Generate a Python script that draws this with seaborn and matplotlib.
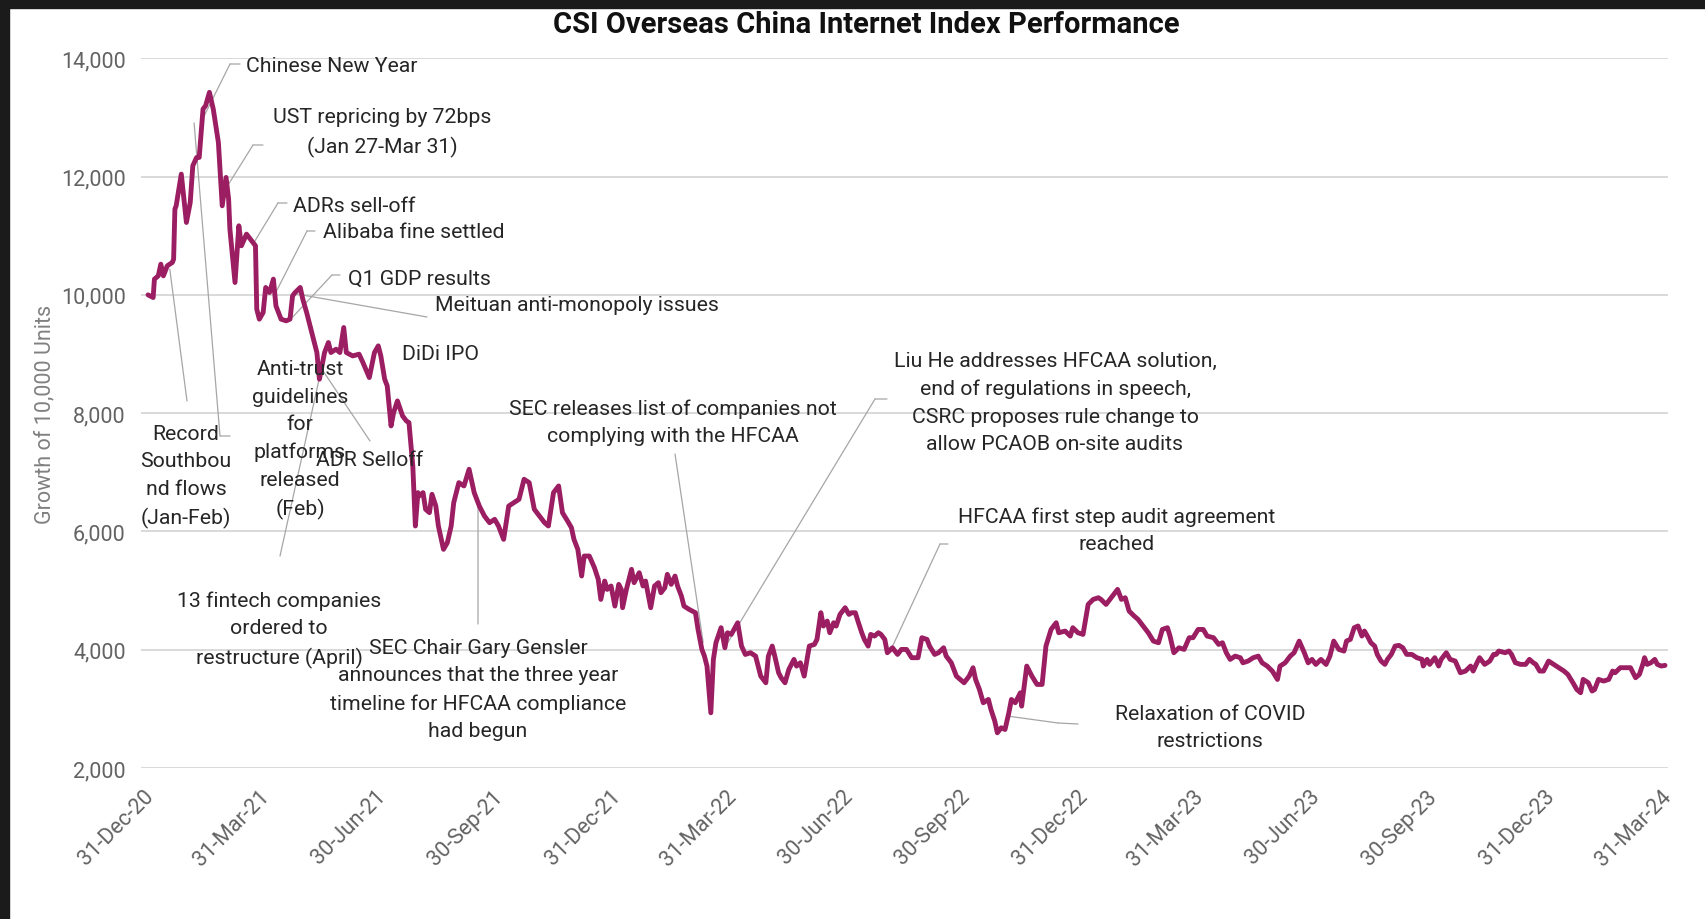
import matplotlib
matplotlib.use("Agg")
import matplotlib.pyplot as plt
import matplotlib.dates as mdates
from matplotlib import font_manager
from matplotlib.patches import Rectangle
from matplotlib.transforms import ScaledTranslation
import seaborn as sns
import pandas as pd

# --- data (growth of 10,000 units) ---

dates = [
    # 2021
    "2020-12-31", "2021-01-04", "2021-01-05", "2021-01-08", "2021-01-10", "2021-01-12", "2021-01-15", "2021-01-19",
    "2021-01-20", "2021-01-21", "2021-01-22", "2021-01-26", "2021-01-30", "2021-02-02", "2021-02-04", "2021-02-07",
    "2021-02-09", "2021-02-12", "2021-02-14", "2021-02-17", "2021-02-20", "2021-02-24", "2021-02-27", "2021-03-02",
    "2021-03-04", "2021-03-05", "2021-03-09", "2021-03-12", "2021-03-14", "2021-03-18", "2021-03-22", "2021-03-25",
    "2021-03-26", "2021-03-28", "2021-03-31", "2021-04-02", "2021-04-05", "2021-04-08", "2021-04-10", "2021-04-14",
    "2021-04-18", "2021-04-21", "2021-04-23", "2021-04-25", "2021-04-29", "2021-05-01", "2021-05-04", "2021-05-08",
    "2021-05-12", "2021-05-14", "2021-05-18", "2021-05-21", "2021-05-23", "2021-05-27", "2021-05-30", "2021-06-02",
    "2021-06-04", "2021-06-09", "2021-06-14", "2021-06-17", "2021-06-22", "2021-06-26", "2021-06-29", "2021-07-01",
    "2021-07-04", "2021-07-06", "2021-07-09", "2021-07-11", "2021-07-14", "2021-07-18", "2021-07-21", "2021-07-23",
    "2021-07-26", "2021-07-28", "2021-07-30", "2021-07-31", "2021-08-03", "2021-08-05", "2021-08-08", "2021-08-10",
    "2021-08-13", "2021-08-15", "2021-08-19", "2021-08-22", "2021-08-25", "2021-08-27", "2021-08-31", "2021-09-04",
    "2021-09-08", "2021-09-12", "2021-09-16", "2021-09-20", "2021-09-24", "2021-09-28", "2021-10-01", "2021-10-05",
    "2021-10-09", "2021-10-13", "2021-10-17", "2021-10-21", "2021-10-25", "2021-10-29", "2021-11-02", "2021-11-06",
    "2021-11-09", "2021-11-13", "2021-11-17", "2021-11-20", "2021-11-24", "2021-11-27", "2021-11-29", "2021-12-02",
    "2021-12-05", "2021-12-07", "2021-12-11", "2021-12-15", "2021-12-18", "2021-12-20", "2021-12-23", "2021-12-25",
    "2021-12-28", "2021-12-31",
    # 2022
    "2022-01-03", "2022-01-05", "2022-01-06", "2022-01-09", "2022-01-13", "2022-01-15", "2022-01-19", "2022-01-22",
    "2022-01-24", "2022-01-28", "2022-01-31", "2022-02-03", "2022-02-05", "2022-02-08", "2022-02-10", "2022-02-13",
    "2022-02-16", "2022-02-18", "2022-02-21", "2022-02-23", "2022-02-27", "2022-03-04", "2022-03-06", "2022-03-09",
    "2022-03-11", "2022-03-13", "2022-03-16", "2022-03-18", "2022-03-20", "2022-03-24", "2022-03-27", "2022-03-29",
    "2022-04-01", "2022-04-06", "2022-04-09", "2022-04-12", "2022-04-16", "2022-04-20", "2022-04-24", "2022-04-28",
    "2022-04-30", "2022-05-03", "2022-05-05", "2022-05-08", "2022-05-10", "2022-05-13", "2022-05-16", "2022-05-20",
    "2022-05-22", "2022-05-25", "2022-05-28", "2022-06-01", "2022-06-05", "2022-06-07", "2022-06-10", "2022-06-12",
    "2022-06-15", "2022-06-17", "2022-06-20", "2022-06-22", "2022-06-25", "2022-06-29", "2022-07-02", "2022-07-04",
    "2022-07-07", "2022-07-09", "2022-07-12", "2022-07-14", "2022-07-17", "2022-07-19", "2022-07-22", "2022-07-25",
    "2022-07-27", "2022-07-30", "2022-08-01", "2022-08-05", "2022-08-09", "2022-08-12", "2022-08-16", "2022-08-20",
    "2022-08-25", "2022-08-28", "2022-09-01", "2022-09-03", "2022-09-07", "2022-09-10", "2022-09-14", "2022-09-16",
    "2022-09-20", "2022-09-24", "2022-09-27", "2022-09-30", "2022-10-04", "2022-10-07", "2022-10-09", "2022-10-12",
    "2022-10-15", "2022-10-19", "2022-10-21", "2022-10-24", "2022-10-26", "2022-10-29", "2022-11-01", "2022-11-04",
    "2022-11-06", "2022-11-09", "2022-11-13", "2022-11-14", "2022-11-18", "2022-11-22", "2022-11-26", "2022-11-30",
    "2022-12-03", "2022-12-07", "2022-12-11", "2022-12-13", "2022-12-18", "2022-12-22", "2022-12-24", "2022-12-28",
    # 2023
    "2023-01-01", "2023-01-05", "2023-01-09", "2023-01-13", "2023-01-15", "2023-01-19", "2023-01-23", "2023-01-28",
    "2023-01-31", "2023-02-03", "2023-02-06", "2023-02-10", "2023-02-13", "2023-02-17", "2023-02-21", "2023-02-25",
    "2023-03-01", "2023-03-04", "2023-03-08", "2023-03-10", "2023-03-13", "2023-03-17", "2023-03-21", "2023-03-25",
    "2023-03-28", "2023-04-01", "2023-04-05", "2023-04-08", "2023-04-13", "2023-04-17", "2023-04-20", "2023-04-23",
    "2023-04-26", "2023-04-30", "2023-05-04", "2023-05-06", "2023-05-10", "2023-05-14", "2023-05-18", "2023-05-21",
    "2023-05-25", "2023-05-29", "2023-06-02", "2023-06-04", "2023-06-08", "2023-06-12", "2023-06-15", "2023-06-19",
    "2023-06-23", "2023-06-26", "2023-06-29", "2023-07-02", "2023-07-06", "2023-07-10", "2023-07-13", "2023-07-16",
    "2023-07-20", "2023-07-24", "2023-07-26", "2023-07-29", "2023-08-01", "2023-08-04", "2023-08-07", "2023-08-09",
    "2023-08-12", "2023-08-14", "2023-08-17", "2023-08-19", "2023-08-22", "2023-08-25", "2023-08-27", "2023-08-30",
    "2023-09-02", "2023-09-05", "2023-09-08", "2023-09-11", "2023-09-15", "2023-09-19", "2023-09-23", "2023-09-24",
    "2023-09-27", "2023-09-29", "2023-10-03", "2023-10-06", "2023-10-08", "2023-10-12", "2023-10-15", "2023-10-19",
    "2023-10-23", "2023-10-27", "2023-10-31", "2023-11-02", "2023-11-05", "2023-11-07", "2023-11-11", "2023-11-15",
    "2023-11-18", "2023-11-20", "2023-11-22", "2023-11-27", "2023-11-30", "2023-12-02", "2023-12-05", "2023-12-09",
    "2023-12-13", "2023-12-16", "2023-12-19", "2023-12-21", "2023-12-24", "2023-12-27", "2023-12-31",
    # 2024
    "2024-01-04", "2024-01-08", "2024-01-12", "2024-01-15", "2024-01-19", "2024-01-22", "2024-01-25", "2024-01-27",
    "2024-01-31", "2024-02-03", "2024-02-05", "2024-02-08", "2024-02-12", "2024-02-16", "2024-02-19", "2024-02-21",
    "2024-02-25", "2024-02-29", "2024-03-04", "2024-03-06", "2024-03-08", "2024-03-11", "2024-03-14", "2024-03-15",
    "2024-03-17", "2024-03-20", "2024-03-23", "2024-03-25", "2024-03-28", "2024-03-31",
]

index_values = [
    # 2021
    10000, 9955, 10266, 10322, 10519, 10322, 10491, 10548,
    10604, 11450, 11506, 12042, 11224, 11563, 12183, 12324,
    12324, 13142, 13198, 13424, 13142, 12578, 11506, 11986,
    11619, 11112, 10209, 11168, 10830, 11027, 10914, 10830,
    9758, 9589, 9702, 10125, 10040, 10266, 9814, 9589,
    9561, 9589, 9984, 10040, 10125, 9927, 9702, 9363,
    9025, 8574, 9025, 9194, 9025, 9081, 9025, 9448,
    9025, 8968, 8997, 8856, 8602, 9025, 9138, 8968,
    8574, 8461, 7784, 8010, 8207, 7953, 7868, 7840,
    7107, 6092, 6656, 6600, 6656, 6374, 6318, 6628,
    6430, 6092, 5697, 5810, 6092, 6487, 6825, 6769,
    7051, 6656, 6430, 6261, 6148, 6205, 6092, 5866,
    6430, 6487, 6543, 6882, 6825, 6374, 6261, 6148,
    6092, 6656, 6769, 6317, 6176, 6064, 5866, 5697,
    5246, 5584, 5584, 5387, 5189, 4851, 5161, 5020,
    5077, 4738,
    # 2022
    5105, 5020, 4710, 5020, 5359, 5133, 5302, 5077,
    5161, 4710, 5077, 5133, 4964, 5048, 5274, 5105,
    5246, 5077, 4907, 4738, 4682, 4625, 4343, 4005,
    3892, 3723, 2933, 3836, 4118, 4372, 4033, 4287,
    4259, 4456, 4061, 3920, 3949, 3892, 3554, 3441,
    3892, 4062, 3892, 3610, 3526, 3441, 3667, 3836,
    3723, 3779, 3554, 4062, 4090, 4175, 4626, 4400,
    4484, 4287, 4456, 4400, 4597, 4710, 4597, 4625,
    4625, 4484, 4287, 4175, 4061, 4259, 4231, 4287,
    4259, 4174, 3949, 4033, 3920, 4005, 4005, 3865,
    3865, 4203, 4174, 4061, 3920, 3949, 4033, 3892,
    3779, 3553, 3497, 3441, 3554, 3695, 3497, 3328,
    3103, 3159, 2990, 2792, 2595, 2680, 2651, 2934,
    3159, 3103, 3272, 3046, 3723, 3554, 3413, 3413,
    4061, 4343, 4456, 4287, 4315, 4231, 4372, 4287,
    # 2023
    4259, 4766, 4851, 4879, 4851, 4766, 4879, 5020,
    4851, 4879, 4654, 4569, 4513, 4400, 4287, 4146,
    4118, 4343, 4372, 4231, 3949, 4033, 4005, 4203,
    4203, 4343, 4343, 4231, 4203, 4090, 4118, 3949,
    3836, 3892, 3864, 3779, 3808, 3864, 3892, 3779,
    3723, 3638, 3497, 3723, 3779, 3892, 3949, 4146,
    3949, 3779, 3836, 3751, 3836, 3751, 3892, 4146,
    4005, 3977, 4147, 4175, 4372, 4401, 4231, 4316,
    4203, 4119, 4062, 3921, 3808, 3752, 3837, 3921,
    4062, 4073, 4034, 3921, 3921, 3865, 3837, 3724,
    3837, 3752, 3865, 3724, 3837, 3949, 3837, 3808,
    3611, 3639, 3724, 3639, 3780, 3865, 3752, 3808,
    3921, 3921, 3978, 3949, 3978, 3921, 3780, 3752,
    3752, 3837, 3780, 3752, 3639, 3639, 3808,
    # 2024
    3752, 3696, 3639, 3583, 3442, 3329, 3273, 3498,
    3442, 3301, 3329, 3498, 3470, 3498, 3639, 3611,
    3696, 3696, 3696, 3611, 3526, 3583, 3780, 3865,
    3752, 3780, 3837, 3752, 3724, 3735,
]

tick_dates = ["2020-12-31", "2021-03-31", "2021-06-30", "2021-09-30", "2021-12-31", "2022-03-31", "2022-06-30",
              "2022-09-30", "2022-12-31", "2023-03-31", "2023-06-30", "2023-09-30", "2023-12-31", "2024-03-31"]
tick_labels = ["31-Dec-20", "31-Mar-21", "30-Jun-21", "30-Sep-21", "31-Dec-21", "31-Mar-22", "30-Jun-22",
               "30-Sep-22", "31-Dec-22", "31-Mar-23", "30-Jun-23", "30-Sep-23", "31-Dec-23", "31-Mar-24"]
y_ticks = [2000, 4000, 6000, 8000, 10000, 12000, 14000]

# events: text, point on the line (date, value)
event_texts = [
    "Chinese New Year",
    "UST repricing by 72bps\n(Jan 27-Mar 31)",
    "ADRs sell-off",
    "Alibaba fine settled",
    "Q1 GDP results",
    "Meituan anti-monopoly issues",
    "Anti-trust\nguidelines\nfor\nplatforms\nreleased\n(Feb)",
    "Record\nSouthbou\nnd flows\n(Jan-Feb)",
    "13 fintech companies\nordered to\nrestructure (April)",
    "ADR Selloff",
    "SEC Chair Gary Gensler\nannounces that the three year\ntimeline for HFCAA compliance\nhad begun",
    "SEC releases list of companies not\ncomplying with the HFCAA",
    "Liu He addresses HFCAA solution,\nend of regulations in speech,\nCSRC proposes rule change to\nallow PCAOB on-site audits",
    "HFCAA first step audit agreement\nreached",
    "Relaxation of COVID\nrestrictions",
]
event_dates = ["2021-02-11", "2021-03-04", "2021-03-24", "2021-04-10", "2021-04-23", "2021-04-27", "2021-02-05",
               "2021-01-17", "2021-05-16", "2021-05-17", "2021-09-15", "2022-03-10", "2022-03-27", "2022-08-05",
               "2022-11-05"]
event_values = [12944, 11873, 10892, 10046, 9623, 10012, 12907, 10435, 8794, 8709, 6425, 4124, 4039, 4056, 2872]

# label layout in output pixels (x, y from top): text anchor, alignment, leader elbow points
label_layout = [
    dict(xy=(246, 67), ha="left", leader=[(230, 65), (240, 65)]),
    dict(xy=(382, 133), ha="center", leader=[(253, 146), (263, 146)]),
    dict(xy=(293, 206), ha="left", leader=[(278, 204), (287, 204)]),
    dict(xy=(323, 233), ha="left", leader=[(307, 232), (315, 232)]),
    dict(xy=(348, 279), ha="left", leader=[(332, 276), (340, 276)]),
    dict(xy=(435, 306), ha="left", leader=[(427, 318)]),
    dict(xy=(300, 440), ha="center", leader=[(220, 437), (230, 437)]),
    dict(xy=(186, 477), ha="center", leader=[(187, 402)]),
    dict(xy=(279, 630), ha="center", leader=[(280, 557)]),
    dict(xy=(370, 461), ha="center", leader=[(370, 442)]),
    dict(xy=(478, 690), ha="center", leader=[(478, 625)]),
    dict(xy=(673, 423), ha="center", leader=[(675, 455)]),
    dict(xy=(1055, 403), ha="center", leader=[(875, 400), (887, 400)]),
    dict(xy=(1117, 531), ha="center", leader=[(940, 545), (948, 545)]),
    dict(xy=(1210, 728), ha="center", leader=[(1058, 724), (1078, 725)]),
]

W, H = 1706, 920
LINE_COLOR = "#9B1D62"
TEXT_COLOR = "#262626"
LEADER_COLOR = "#a6a6a6"
TICK_COLOR = "#636363"
NOTE_SIZE = 15.3


def pick_font(candidates):
    names = {f.name for f in font_manager.fontManager.ttflist}
    for c in candidates:
        if c in names:
            return c
    return "DejaVu Sans"


sns.set_theme(style="white")
base_font = pick_font(["Roboto", "Lato", "DejaVu Sans"])
plt.rcParams["font.family"] = [base_font, "DejaVu Sans"]

df = pd.DataFrame({"date": pd.to_datetime(dates), "value": index_values})

fig = plt.figure(figsize=(W / 100, H / 100), dpi=100)
fig.patch.set_facecolor("white")
ax = fig.add_axes([141 / W, 1 - 769 / H, (1668 - 141) / W, (769 - 59.3) / H])

sns.lineplot(data=df, x="date", y="value", ax=ax, color=LINE_COLOR, linewidth=3.5, zorder=3)

ax.set_xlim(pd.Timestamp("2020-12-25 12:00"), pd.Timestamp("2024-04-02 08:00"))
ax.set_ylim(2000, 14000)
ax.set_yticks(y_ticks)
ax.set_yticklabels([f"{v:,}" for v in y_ticks])
ax.yaxis.grid(True, color="#d9d9d9", linewidth=1.4)
ax.xaxis.grid(False)
for s in ax.spines.values():
    s.set_visible(False)
ax.set_xlabel("")
ax.set_ylabel("")

ax.set_xticks(pd.to_datetime(tick_dates))
ax.set_xticklabels(tick_labels, rotation=45, ha="right", va="center", rotation_mode="anchor")
ax.tick_params(axis="x", length=0, pad=18, labelsize=15.5, labelcolor=TICK_COLOR)
ax.tick_params(axis="y", length=0, pad=11, labelsize=15.5, labelcolor=TICK_COLOR)
shift = ScaledTranslation(3 / 100, 0, fig.dpi_scale_trans)
for lab in ax.get_xticklabels():
    lab.set_transform(lab.get_transform() + shift)

# title and axis title
fig.text(866 / W, 1 - 25 / H, "CSI Overseas China Internet Index Performance", ha="center", va="center",
         fontsize=21, fontweight="bold", color="#111111")
fig.text(45 / W, 1 - 414 / H, "Growth of 10,000 Units", rotation=90, ha="center", va="center",
         fontsize=15.5, color="#808080")

# event labels with leader lines
for text, d, v, lay in zip(event_texts, event_dates, event_values, label_layout):
    pts = lay["leader"]
    x0 = mdates.date2num(pd.Timestamp(d))
    ax.annotate("", xy=(x0, v), xycoords="data", xytext=(pts[0][0], H - pts[0][1]),
                textcoords="figure pixels",
                arrowprops=dict(arrowstyle="-", color=LEADER_COLOR, lw=0.9, shrinkA=0, shrinkB=0),
                zorder=2)
    for p, q in zip(pts[:-1], pts[1:]):
        ax.annotate("", xy=(q[0], H - q[1]), xycoords="figure pixels", xytext=(p[0], H - p[1]),
                    textcoords="figure pixels",
                    arrowprops=dict(arrowstyle="-", color=LEADER_COLOR, lw=0.9, shrinkA=0, shrinkB=0))
    fig.text(lay["xy"][0] / W, 1 - lay["xy"][1] / H, text, ha=lay["ha"], va="center",
             multialignment="center", fontsize=NOTE_SIZE, color=TEXT_COLOR, linespacing=1.56, zorder=5)

fig.text(402 / W, 1 - 355 / H, "DiDi IPO", ha="left", va="center", fontsize=NOTE_SIZE, color=TEXT_COLOR)

# dark frame from the screenshot
fig.add_artist(Rectangle((0, 1 - 9 / H), 1, 9 / H, transform=fig.transFigure, color="#1b1b1b", zorder=10))
fig.add_artist(Rectangle((0, 0), 9 / W, 1, transform=fig.transFigure, color="#1b1b1b", zorder=10))

fig.savefig("out.png", dpi=100, facecolor=fig.get_facecolor())
